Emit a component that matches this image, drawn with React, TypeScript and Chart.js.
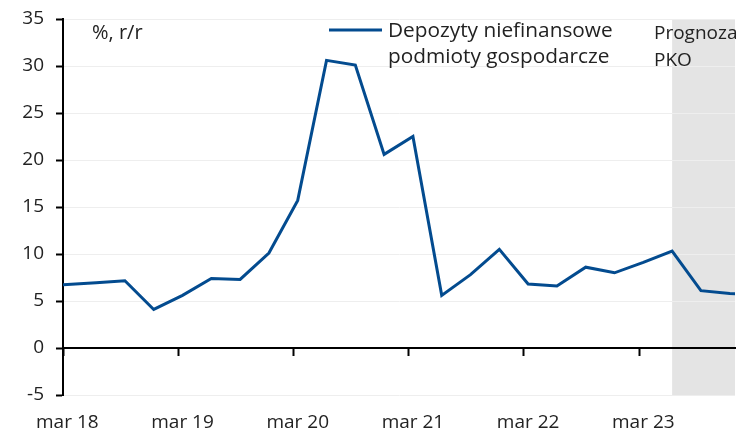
import React, { useEffect, useRef } from "react";
import { Chart, registerables } from "chart.js";

Chart.register(...registerables);

// Quarterly observations, starting Dec 2017 (first and last are partly outside the axis range)
const QUARTERS = [
  "gru 17", "mar 18", "cze 18", "wrz 18", "gru 18", "mar 19", "cze 19", "wrz 19",
  "gru 19", "mar 20", "cze 20", "wrz 20", "gru 20", "mar 21", "cze 21", "wrz 21",
  "gru 21", "mar 22", "cze 22", "wrz 22", "gru 22", "mar 23", "cze 23", "wrz 23",
  "gru 23", "mar 24",
];
const DEPOSITS = [
  6.6, 6.75, 6.95, 7.15, 4.1, 5.6, 7.4, 7.3,
  10.1, 15.7, 30.6, 30.1, 20.6, 22.5, 5.6, 7.8,
  10.5, 6.8, 6.6, 8.6, 8.0, 9.1, 10.3, 6.1,
  5.8, 5.7,
];
const X_TICK_LABELS = ["mar 18", "mar 19", "mar 20", "mar 21", "mar 22", "mar 23"];
const Y_MIN = -5;
const Y_MAX = 35;
const Y_STEP = 5;
const FORECAST_FROM = "cze 23";
const SERIES_LABEL = ["Depozyty niefinansowe", "podmioty gospodarcze"];
const UNIT_LABEL = "%, r/r";
const FORECAST_LABEL = ["Prognoza", "PKO"];

// time axis in months counted from March 2018
const FIRST_QUARTER_MONTH = -3;
const POINT_SHIFT = 0.45;
const X_MIN = 0;
const X_MAX = 70;

const quarterX = (i: number) => FIRST_QUARTER_MONTH + 3 * i + POINT_SHIFT;
const yearStarts = X_TICK_LABELS.map((_, k) => 12 * k);
const labelPositions = X_TICK_LABELS.map((l) => quarterX(QUARTERS.indexOf(l)));

const LINE_COLOR = "#034b8f";
const TEXT_COLOR = "#222222";
const FONT = '"Open Sans", sans-serif';

const overlayPlugin = {
  id: "overlay",
  beforeDraw(chart: any) {
    const { ctx, chartArea } = chart;
    const xs = chart.scales.x;
    const x0 = xs.getPixelForValue(quarterX(QUARTERS.indexOf(FORECAST_FROM)));
    ctx.save();
    ctx.fillStyle = "#e4e4e4";
    ctx.fillRect(x0, chartArea.top, chartArea.right - x0, chartArea.bottom - chartArea.top);
    ctx.restore();
  },
  afterDraw(chart: any) {
    const { ctx, chartArea } = chart;
    const L = chartArea.left;
    const T = chartArea.top;
    ctx.save();
    ctx.fillStyle = TEXT_COLOR;
    ctx.textBaseline = "alphabetic";
    ctx.textAlign = "left";
    ctx.font = `20px ${FONT}`;
    ctx.fillText(UNIT_LABEL, L + 29, T + 20);
    ctx.font = `19px ${FONT}`;
    ctx.fillText(FORECAST_LABEL[0], L + 591, T + 20);
    ctx.fillText(FORECAST_LABEL[1], L + 591, T + 47);
    // legend
    ctx.strokeStyle = LINE_COLOR;
    ctx.lineWidth = 3;
    ctx.beginPath();
    ctx.moveTo(L + 266, T + 11);
    ctx.lineTo(L + 319, T + 11);
    ctx.stroke();
    ctx.font = `20.8px ${FONT}`;
    ctx.fillText(SERIES_LABEL[0], L + 325, T + 18);
    ctx.fillText(SERIES_LABEL[1], L + 325, T + 44);
    ctx.restore();
  },
};

export default function App() {
  const ref = useRef<HTMLCanvasElement>(null);
  useEffect(() => {
    if (!ref.current) return;
    const chart = new Chart(ref.current, {
      type: "line",
      data: {
        datasets: [
          {
            label: SERIES_LABEL.join(" "),
            data: DEPOSITS.map((v, i) => ({ x: quarterX(i), y: v })),
            borderColor: LINE_COLOR,
            borderWidth: 3,
            pointRadius: 0,
            tension: 0,
            fill: false,
            xAxisID: "x",
            yAxisID: "y",
          },
        ],
      },
      options: {
        animation: false,
        responsive: true,
        maintainAspectRatio: false,
        devicePixelRatio: 1,
        layout: { padding: { left: 0, right: 8, top: 19, bottom: 0 } },
        plugins: { legend: { display: false }, tooltip: { enabled: false } },
        scales: {
          x: {
            type: "linear",
            position: "bottom",
            min: X_MIN,
            max: X_MAX,
            grid: { display: false, drawTicks: false },
            border: { display: false },
            afterBuildTicks: (scale: any) => {
              scale.ticks = labelPositions.map((v) => ({ value: v }));
            },
            afterFit: (scale: any) => {
              scale.height = 37;
              scale.paddingLeft = 0;
              scale.paddingRight = 0;
            },
            ticks: {
              autoSkip: false,
              maxRotation: 0,
              padding: 16,
              color: TEXT_COLOR,
              font: { family: FONT, size: 19 },
              callback: (_v: any, i: number) => X_TICK_LABELS[i],
            },
          },
          x2: {
            type: "linear",
            position: { y: 0 } as any,
            min: X_MIN,
            max: X_MAX,
            afterBuildTicks: (scale: any) => {
              scale.ticks = yearStarts.map((v) => ({ value: v }));
            },
            afterFit: (scale: any) => {
              scale.paddingLeft = 0;
              scale.paddingRight = 0;
            },
            grid: {
              drawOnChartArea: false,
              drawTicks: true,
              tickLength: 7,
              tickColor: "#000",
              tickWidth: 2,
            },
            border: { display: true, color: "#000", width: 2 },
            ticks: { display: false },
          },
          y: {
            type: "linear",
            position: "left",
            min: Y_MIN,
            max: Y_MAX,
            afterFit: (scale: any) => {
              scale.width = 63;
              scale.paddingTop = 0;
              scale.paddingBottom = 0;
            },
            ticks: {
              stepSize: Y_STEP,
              padding: 12,
              color: TEXT_COLOR,
              font: { family: FONT, size: 19 },
            },
            grid: {
              color: "#eeeeee",
              lineWidth: 1,
              tickColor: "#000",
              tickWidth: 2,
              tickLength: 7,
            },
            border: { display: true, color: "#000", width: 2 },
          },
        },
      },
      plugins: [overlayPlugin],
    });
    return () => chart.destroy();
  }, []);
  return (
    <div style={{ position: "fixed", left: 0, top: 0, width: 743, height: 432, background: "#fff" }}>
      <canvas ref={ref} />
    </div>
  );
}
